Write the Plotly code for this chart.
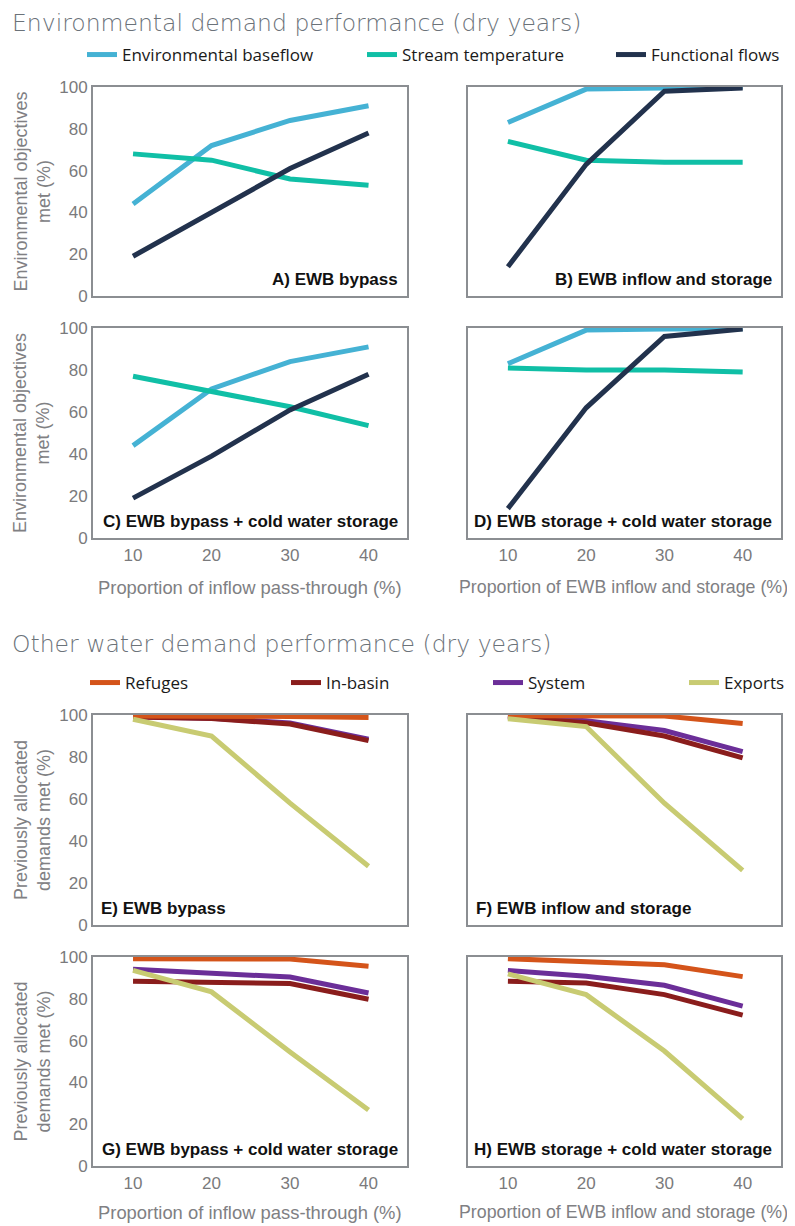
import plotly.graph_objects as go
from plotly.subplots import make_subplots

W, H = 795, 1226
OFFSET = 8  # page body margin in the browser

x_vals = [10, 20, 30, 40]

# Environmental demand performance
env_series = ["Environmental baseflow", "Stream temperature", "Functional flows"]
A_baseflow = [44, 72, 84, 91]
A_temp = [68, 65, 56, 53]
A_func = [19, 40, 61, 78]
B_baseflow = [83, 99, 99.5, 100]
B_temp = [74, 65, 64, 64]
B_func = [14, 63, 98, 99.5]
C_baseflow = [44, 71, 84, 91]
C_temp = [77, 70, 62.5, 53.5]
C_func = [19, 39, 61, 78]
D_baseflow = [83, 99, 99.5, 99.7]
D_temp = [81, 80, 80, 79]
D_func = [14, 62, 96, 99.5]

# Other water demand performance
oth_series = ["Refuges", "In-basin", "System", "Exports"]
E_refuges = [99.5, 99.5, 99.3, 98.8]
E_inbasin = [99, 98.3, 95.7, 87.8]
E_system = [99.2, 98.5, 96.2, 88.5]
E_exports = [98, 90, 58, 28]
F_refuges = [99.7, 99.7, 99.5, 96]
F_inbasin = [99, 96.3, 90, 79.6]
F_system = [99.5, 97.3, 92.6, 82.6]
F_exports = [98.2, 94.5, 58, 26]
G_refuges = [99.2, 99.2, 99, 95.6]
G_inbasin = [88.4, 88.1, 87.3, 79.8]
G_system = [94.1, 92.5, 90.4, 82.8]
G_exports = [93.6, 83.3, 54.6, 26.8]
H_refuges = [99.2, 97.9, 96.3, 90.6]
H_inbasin = [88.4, 87.6, 82, 72.2]
H_system = [93.6, 90.8, 86.5, 76.5]
H_exports = [91.9, 82, 55, 22.5]

panel_labels = ["A) EWB bypass", "B) EWB inflow and storage",
                "C) EWB bypass + cold water storage", "D) EWB storage + cold water storage",
                "E) EWB bypass", "F) EWB inflow and storage",
                "G) EWB bypass + cold water storage", "H) EWB storage + cold water storage"]
x_titles = ["Proportion of inflow pass-through (%)", "Proportion of EWB inflow and storage (%)"]
y_ticks = [0, 20, 40, 60, 80, 100]

env_colors = {"Environmental baseflow": "#45b2d4", "Stream temperature": "#10bfa6", "Functional flows": "#22324d"}
oth_colors = {"Refuges": "#d4541a", "In-basin": "#8a1d1c", "System": "#6b2e98", "Exports": "#c8cb72"}

env_data = [
    {"Environmental baseflow": A_baseflow, "Stream temperature": A_temp, "Functional flows": A_func},
    {"Environmental baseflow": B_baseflow, "Stream temperature": B_temp, "Functional flows": B_func},
    {"Environmental baseflow": C_baseflow, "Stream temperature": C_temp, "Functional flows": C_func},
    {"Environmental baseflow": D_baseflow, "Stream temperature": D_temp, "Functional flows": D_func},
]
oth_data = [
    {"Refuges": E_refuges, "In-basin": E_inbasin, "System": E_system, "Exports": E_exports},
    {"Refuges": F_refuges, "In-basin": F_inbasin, "System": F_system, "Exports": F_exports},
    {"Refuges": G_refuges, "In-basin": G_inbasin, "System": G_system, "Exports": G_exports},
    {"Refuges": H_refuges, "In-basin": H_inbasin, "System": H_system, "Exports": H_exports},
]
oth_draw_order = ["System", "In-basin", "Refuges", "Exports"]

fig = make_subplots(rows=4, cols=2)

# pixel geometry of panels (page pixels)
col_px = [(93, 407), (468, 781)]
row_px = [(87, 296), (328, 538), (715, 925), (957, 1166)]

def px_x(v):
    return (v - OFFSET) / W

def px_y(v):
    return 1 - (v - OFFSET) / H

# legend positions (text start x, center y)
legend_pos = {
    "Environmental baseflow": ("legend", 122, 55),
    "Stream temperature": ("legend2", 402, 55),
    "Functional flows": ("legend3", 651, 55),
    "Refuges": ("legend4", 125, 683),
    "In-basin": ("legend5", 326, 683),
    "System": ("legend6", 528, 683),
    "Exports": ("legend7", 724, 683),
}

for i, d in enumerate(env_data):
    r, c = i // 2 + 1, i % 2 + 1
    for name in env_series:
        fig.add_trace(go.Scatter(
            x=x_vals, y=d[name], mode="lines", name=name,
            line=dict(color=env_colors[name], width=5),
            cliponaxis=False,
            showlegend=(i == 0), legend=legend_pos[name][0],
            hoverinfo="skip"), row=r, col=c)

for i, d in enumerate(oth_data):
    r, c = i // 2 + 3, i % 2 + 1
    for name in oth_draw_order:
        fig.add_trace(go.Scatter(
            x=x_vals, y=d[name], mode="lines", name=name,
            line=dict(color=oth_colors[name], width=5),
            cliponaxis=False,
            showlegend=(i == 0), legend=legend_pos[name][0],
            hoverinfo="skip"), row=r, col=c)

tick_font = dict(family="Liberation Sans, Arial, sans-serif", size=17, color="#7a7a7c")
box_color = "#8b8e92"

layout = dict(
    width=W, height=H, margin=dict(l=0, r=0, t=0, b=0, autoexpand=False),
    paper_bgcolor="white", plot_bgcolor="white",
    showlegend=True,
)

for k in range(8):
    r, c = k // 2, k % 2
    ax = "" if k == 0 else str(k + 1)
    x0, x1 = col_px[c]
    y0, y1 = row_px[r]
    show_x = r in (1, 3)
    layout["xaxis" + ax] = dict(
        domain=[px_x(x0), px_x(x1)], range=[4.9, 44.9],
        tickvals=x_vals, showticklabels=show_x, ticks="",
        showgrid=False, zeroline=False, automargin=False,
        showline=True, mirror=True, linecolor=box_color, linewidth=2,
        tickfont=tick_font, ticklabelstandoff=1,
    )
    layout["yaxis" + ax] = dict(
        domain=[px_y(y1), px_y(y0)], range=[0, 100],
        tickvals=y_ticks, showticklabels=(c == 0), ticks="",
        showgrid=False, zeroline=False, automargin=False,
        showline=True, mirror=True, linecolor=box_color, linewidth=2,
        tickfont=tick_font, ticklabelstandoff=0,
    )

for name, (lg, tx, ty) in legend_pos.items():
    layout[lg] = dict(
        orientation="h", x=px_x(tx - 40), y=px_y(ty), xanchor="left", yanchor="middle",
        bgcolor="rgba(0,0,0,0)", borderwidth=0,
        font=dict(family="Open Sans, sans-serif", size=17, color="#1a1a1a"),
    )

fig.update_layout(**layout)

annotations = []
title_font = dict(family="DejaVu Sans, sans-serif", size=23.5, color="#6b7279", weight=300)
annotations.append(dict(text="Environmental demand performance (dry years)", xref="paper", yref="paper",
                        x=px_x(10), y=px_y(23), xanchor="left", yanchor="middle", showarrow=False,
                        font=title_font))
annotations.append(dict(text="Other water demand performance (dry years)", xref="paper", yref="paper",
                        x=px_x(10), y=px_y(644), xanchor="left", yanchor="middle", showarrow=False,
                        font=title_font))

label_font = dict(family="Liberation Sans, Arial, sans-serif", size=17, color="#111111", weight="bold")
for k in range(8):
    ax = "" if k == 0 else str(k + 1)
    left = k in (4, 5)
    annotations.append(dict(
        text=panel_labels[k], xref="x" + ax + " domain", yref="y" + ax + " domain",
        x=0 if left else 1, y=0, xanchor="left" if left else "right", yanchor="bottom",
        xshift=6 if left else -7, yshift=5, showarrow=False, font=label_font))

ytitle_font = dict(family="Liberation Sans, Arial, sans-serif", size=18, color="#808083")
y_titles = ["Environmental objectives<br>met (%)", "Environmental objectives<br>met (%)",
            "Previously allocated<br>demands met (%)", "Previously allocated<br>demands met (%)"]
for r in range(4):
    y0, y1 = row_px[r]
    annotations.append(dict(
        text=y_titles[r], xref="paper", yref="paper", x=px_x(32), y=px_y((y0 + y1) / 2),
        xanchor="center", yanchor="middle", textangle=-90, showarrow=False, font=ytitle_font))

xtitle_sizes = [18.4, 17.8]
xtitle_centers = [250, 623]
for ty in (587, 1212):
    for c in range(2):
        annotations.append(dict(
            text=x_titles[c], xref="paper", yref="paper", x=px_x(xtitle_centers[c]), y=px_y(ty),
            xanchor="center", yanchor="middle", showarrow=False,
            font=dict(family="Liberation Sans, Arial, sans-serif", size=xtitle_sizes[c], color="#808083")))

fig.update_layout(annotations=annotations)

fig.write_html("out.html")
